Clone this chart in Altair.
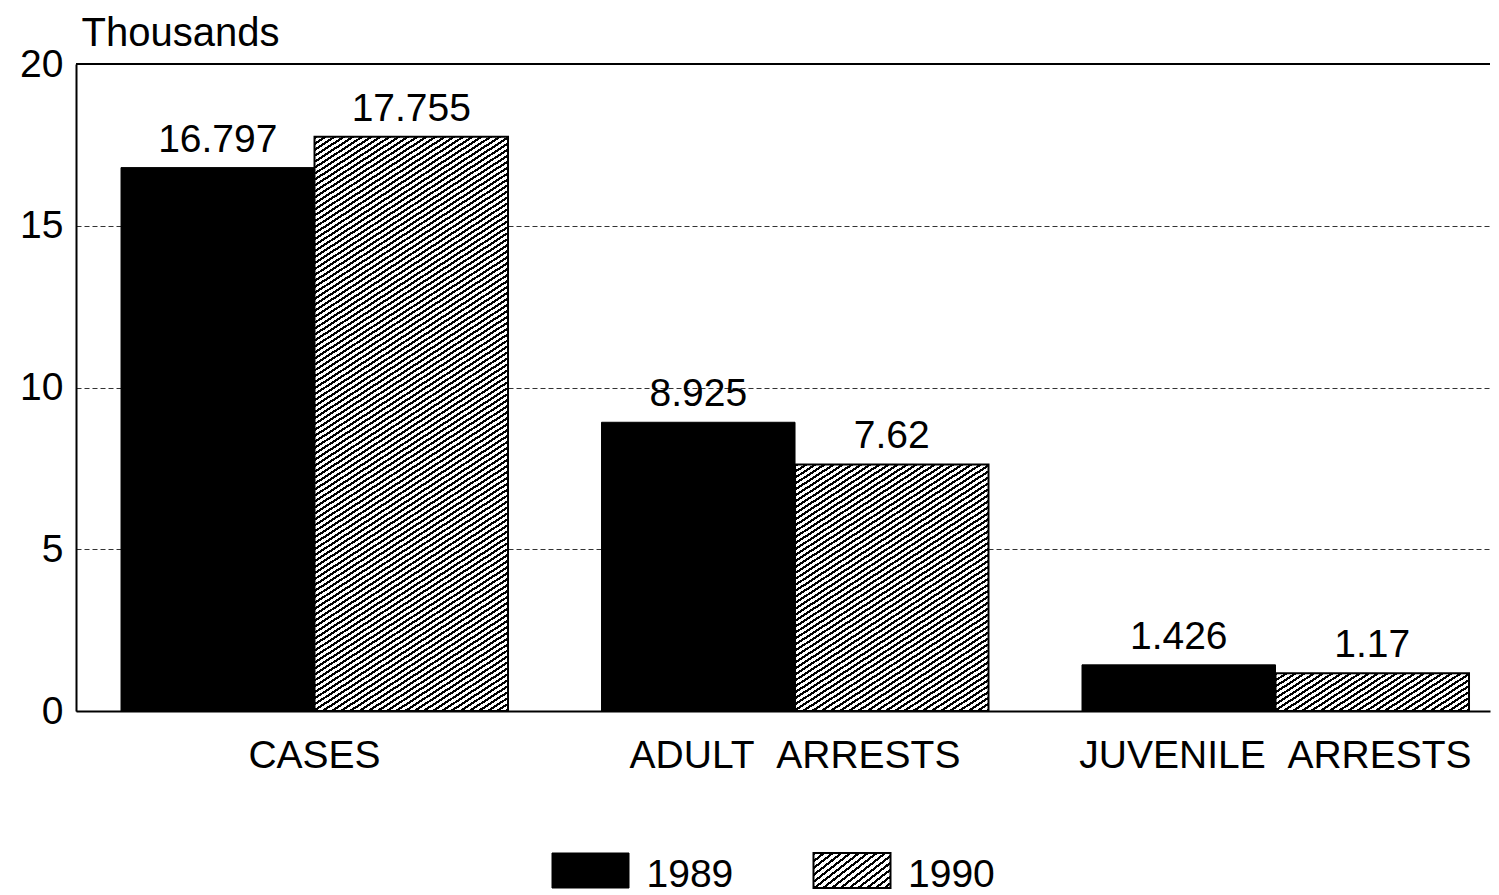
import math
import altair as alt
import pandas as pd

# ---------------- data ----------------
categories = ["CASES", "ADULT\u00a0\u00a0ARRESTS", "JUVENILE\u00a0\u00a0ARRESTS"]
years = ["1989", "1990"]
values_1989 = [16.797, 8.925, 1.426]
values_1990 = [17.755, 7.62, 1.17]
labels_1989 = ["16.797", "8.925", "1.426"]
labels_1990 = ["17.755", "7.62", "1.17"]
y_ticks = [0, 5, 10, 15, 20]
y_top = [20]

rows = []
for i, c in enumerate(categories):
    rows.append({"category": c, "year": years[0], "value": values_1989[i], "label": labels_1989[i]})
    rows.append({"category": c, "year": years[1], "value": values_1990[i], "label": labels_1990[i]})
df = pd.DataFrame(rows)

# ---------------- layout / style ----------------
FONT = "Liberation Sans"
PLOT_W, PLOT_H = 1414, 647
Y_MAX = 20
PAD_INNER = 0.1946
PAD_OUTER = 0.0687
ALIGN = 0.682
STEP = PLOT_W / (3 - PAD_INNER + 2 * PAD_OUTER)
BAR_W = STEP * (1 - PAD_INNER) / 2
LEG_H = 35
LEG_W = 77


def hatch(w, h, angle=33.0, pitch=5.0, line=2.2):
    """Diagonal '/' hatch fill built as a hard-stop linear gradient."""
    th = math.radians(angle)
    nx, ny = math.sin(th), math.cos(th)
    L = w * nx + h * ny
    ax, ay = w * nx / L, h * ny / L
    a2 = ax * ax + ay * ay
    x2, y2 = ax / a2, ay / a2
    stops = []
    k = 0
    while k * pitch / L < 1:
        s = k * pitch / L
        e = min((k * pitch + line) / L, 1)
        f = min((k + 1) * pitch / L, 1)
        stops += [
            alt.GradientStop(offset=round(s, 6), color="black"),
            alt.GradientStop(offset=round(e, 6), color="black"),
            alt.GradientStop(offset=round(e, 6), color="white"),
            alt.GradientStop(offset=round(f, 6), color="white"),
        ]
        k += 1
    return alt.LinearGradient(gradient="linear", stops=stops, x1=0, y1=0,
                              x2=round(x2, 6), y2=round(y2, 6))


x_enc = alt.X(
    "category:N",
    sort=categories,
    scale=alt.Scale(paddingInner=PAD_INNER, paddingOuter=PAD_OUTER, align=ALIGN),
    axis=alt.Axis(title=None, labelAngle=0, ticks=False, labelPadding=25,
                  labelFontSize=39, labelFont=FONT, labelColor="black", labelLimit=1000,
                  domainColor="black", domainWidth=2, grid=False),
)
xoff_enc = alt.XOffset("year:N", scale=alt.Scale(domain=years, paddingInner=0, paddingOuter=0))
y_enc = alt.Y(
    "value:Q",
    scale=alt.Scale(domain=[0, Y_MAX], nice=False),
    axis=alt.Axis(values=y_ticks, title="Thousands", titleAngle=0, titleAlign="left",
                  titleBaseline="alphabetic", titleX=5, titleY=-19, titleFontSize=40,
                  titleFont=FONT, titleFontWeight="normal", titleColor="black",
                  ticks=False, labelPadding=13, labelFontSize=39, labelFont=FONT,
                  labelColor="black", grid=True, gridDash=[5, 3], gridColor="#333333",
                  gridWidth=1, domainColor="black", domainWidth=2),
)

base = alt.Chart(df).encode(x=x_enc, xOffset=xoff_enc, y=y_enc)

top_rule = alt.Chart(pd.DataFrame({"v": y_top})).mark_rule(
    color="black", strokeWidth=2).encode(y=alt.datum(y_top[0]))

bars_1989 = base.transform_filter(alt.datum.year == years[0]).mark_bar(
    fill="black", stroke="black", strokeWidth=1)

hatch_layers = []
for i, c in enumerate(categories):
    h = values_1990[i] * PLOT_H / Y_MAX
    hatch_layers.append(
        base.transform_filter((alt.datum.year == years[1]) & (alt.datum.category == c))
        .mark_bar(fill=hatch(BAR_W, h), stroke="black", strokeWidth=2)
    )

value_text = base.mark_text(baseline="alphabetic", dy=-16, fontSize=39, font=FONT,
                            color="black").encode(text="label:N")

main = alt.layer(top_rule, bars_1989, *hatch_layers, value_text).properties(
    width=PLOT_W, height=PLOT_H)

# ---------------- legend ----------------
leg_df = pd.DataFrame({"year": years})
leg_x = alt.X("year:N", scale=alt.Scale(domain=years, range=[383.75, 906.75],
                                        paddingInner=0, paddingOuter=0), axis=None)
leg_base = alt.Chart(leg_df).encode(x=leg_x)
leg_black = leg_base.transform_filter(alt.datum.year == years[0]).mark_bar(
    width=LEG_W, fill="black", stroke="black", strokeWidth=1)
leg_hatch = leg_base.transform_filter(alt.datum.year == years[1]).mark_bar(
    width=LEG_W, fill=hatch(LEG_W, LEG_H, angle=38, pitch=5.4, line=2.2),
    stroke="black", strokeWidth=2)
leg_text = leg_base.mark_text(align="left", baseline="middle", dx=56, dy=4,
                              fontSize=39, font=FONT, color="black").encode(text="year:N")
legend = alt.layer(leg_black, leg_hatch, leg_text).properties(width=PLOT_W, height=LEG_H)

chart = (
    alt.vconcat(main, legend, spacing=77)
    .configure(padding={"left": 11, "top": 5, "right": 0, "bottom": 0}, font=FONT)
    .configure_view(stroke=None)
)

chart.save("out.html", embed_options={"renderer": "svg", "actions": False})
